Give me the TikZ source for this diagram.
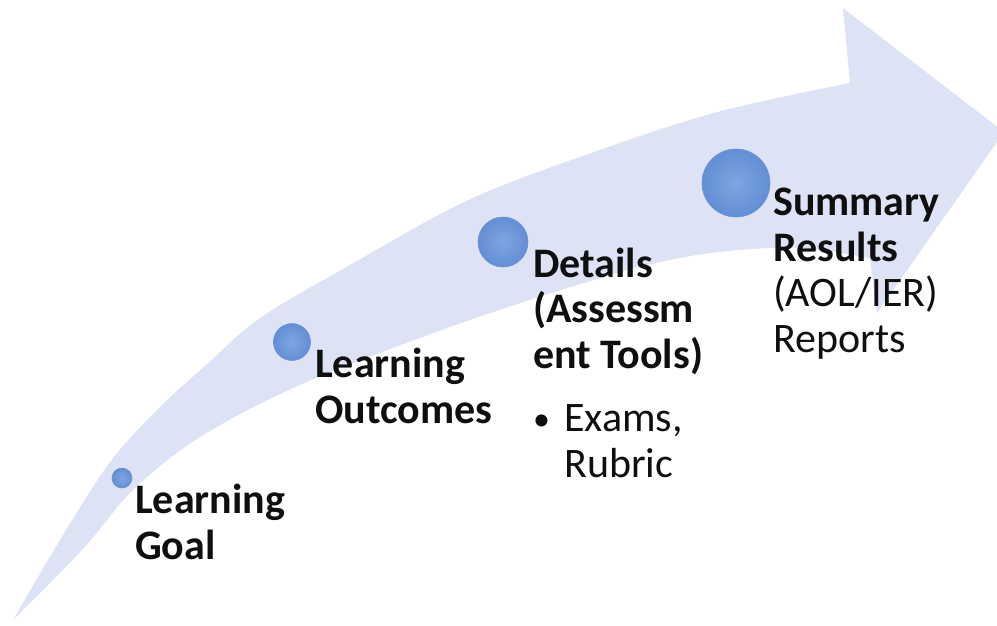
\documentclass[tikz,border=0pt]{standalone}
\usepackage{fontspec}
\setmainfont{Carlito}
\usetikzlibrary{shadings}
\definecolor{bandfill}{RGB}{221,227,245}
\definecolor{ballin}{RGB}{128,166,226}
\definecolor{ballout}{RGB}{98,142,212}
\definecolor{ballrim}{RGB}{106,148,216}
\definecolor{txt}{RGB}{15,15,15}
\tikzset{
  ball/.style={circle, inner sep=0pt, draw=ballrim, line width=0.6pt, inner color=ballin, outer color=ballout},
  lbl/.style={anchor=base west, inner sep=0pt, align=left, text=txt, font=\fontsize{42}{45.5}\selectfont},
}
\begin{document}
\begin{tikzpicture}[x=1pt,y=-1pt]
\useasboundingbox (0,0) rectangle (997,625);
\begin{scope}
\clip (0,0) rectangle (997,625);
\fill[bandfill] (13,620)
  -- plot[smooth, tension=0.55] coordinates {(13,620) (60,540) (110,462) (160,407) (205,366) (260,318) (350,265) (460,204) (560,164) (710,114) (850,83)}
  -- (843,8) -- (1004,132) -- (877,313) -- (870,258)
  -- plot[smooth, tension=0.55] coordinates {(870,258) (800,248) (740,250) (680,258) (600,278) (450,327) (300,385) (200,437) (133,490) (83,549) (13,620)}
  -- cycle;
\end{scope}
\node[ball, minimum size=20pt] (b1) at (122,478) {};
\node[ball, minimum size=37pt] (b2) at (292,342) {};
\node[ball, minimum size=50pt] (b3) at (503,242) {};
\node[ball, minimum size=68pt] (b4) at (736,183) {};
\node[lbl] (t1) at (135,559) {\bfseries Learning\\\bfseries Goal};
\node[lbl] (t2) at (315,423) {\bfseries Learning\\\bfseries Outcomes};
\node[lbl] (t3) at (533,368) {\bfseries Details\\\bfseries (Assessm\\\bfseries ent Tools)};
\node[lbl] (t3b) at (533,477) {\makebox[31pt][l]{\raisebox{1pt}{\fontsize{34}{34}\selectfont\textbullet}}Exams,\\\hspace*{31pt}Rubric};
\node[lbl] (t4) at (773,352) {\bfseries Summary\\\bfseries Results\\(AOL/IER)\\Reports};
\end{tikzpicture}
\end{document}
